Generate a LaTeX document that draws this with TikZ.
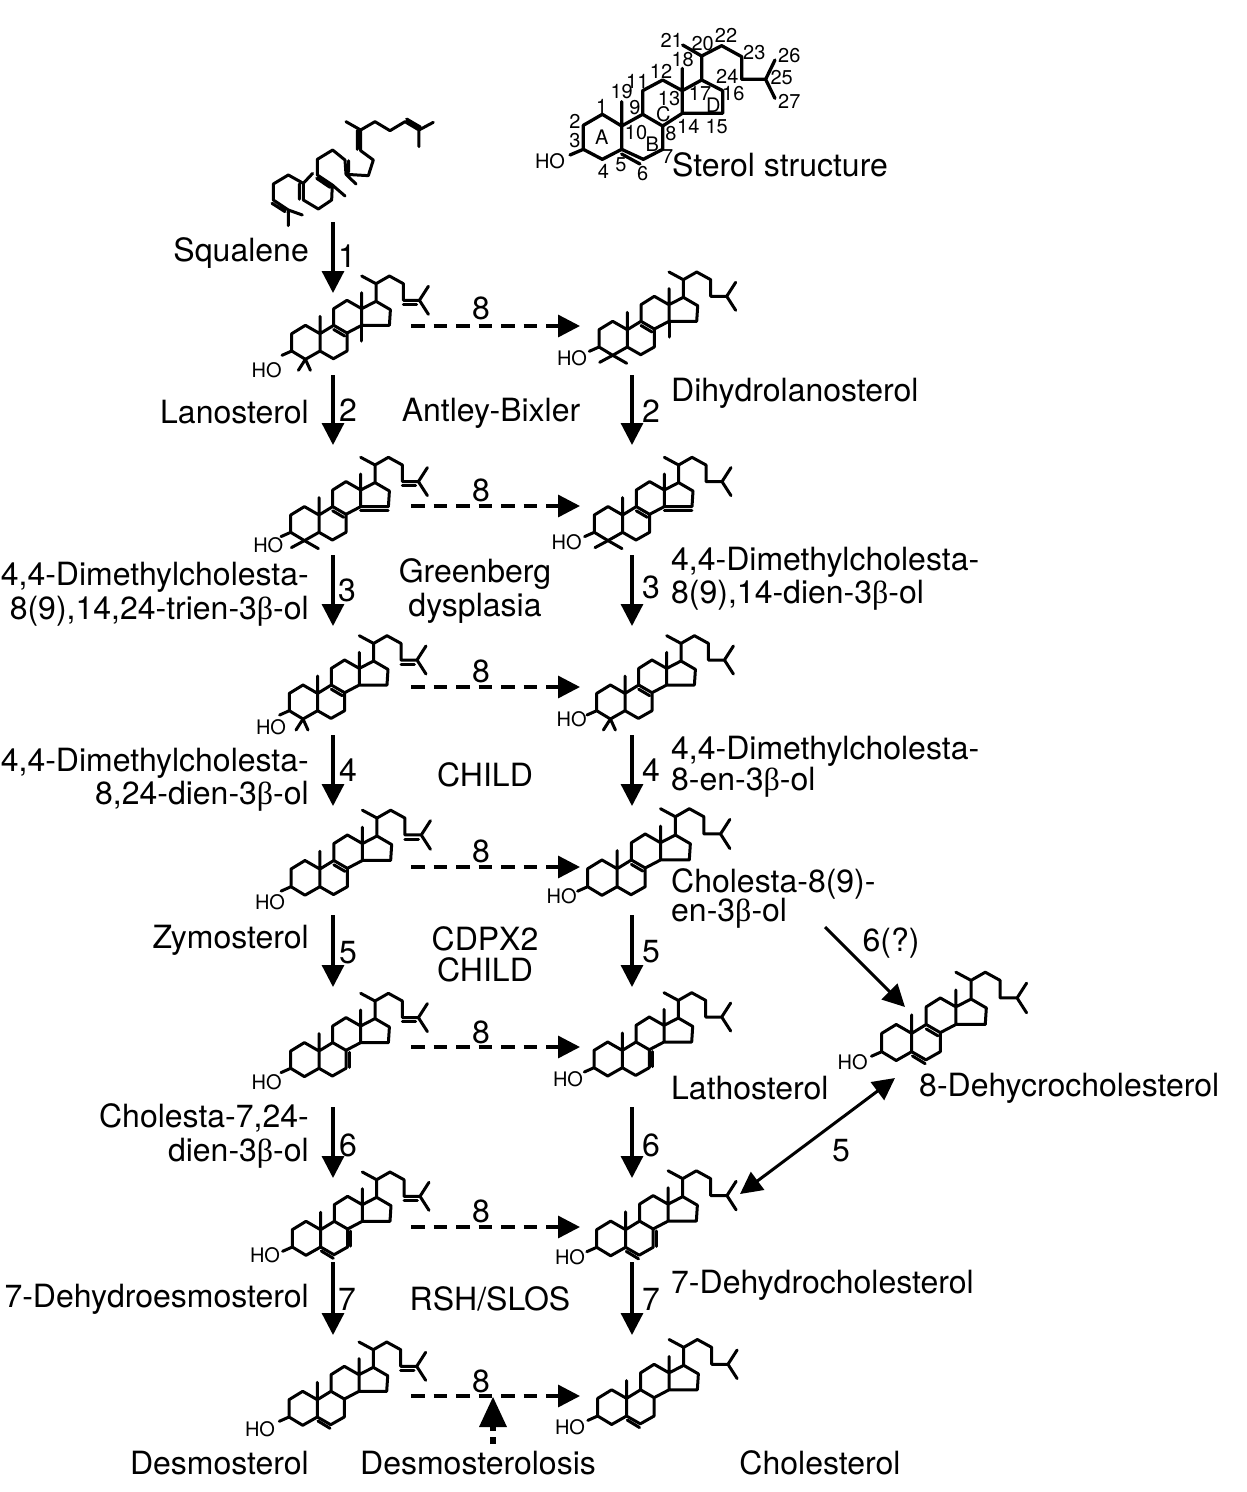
\documentclass[tikz,border=0pt]{standalone}
\usepackage{fontspec}
\setmainfont{TeX Gyre Heros}
\newfontfamily\grk{Liberation Serif}
\usetikzlibrary{arrows.meta}
\newcommand{\bet}{{\grk β}}
\tikzset{
  bond/.style={line width=3pt,line join=round,line cap=round,black},
  bigbond/.style={line width=3.3pt,line join=round,line cap=round,black},
  lab/.style={inner sep=0pt,font=\fontsize{32}{36}\selectfont},
  small/.style={inner sep=0pt,font=\fontsize{20}{24}\selectfont},
  hotext/.style={inner sep=0pt,font=\fontsize{20}{22}\selectfont},
  solidarrow/.style={line width=3.2pt,-{Triangle[length=22pt,width=22pt]}},
  dasharrow/.style={line width=3.4pt,dash pattern=on 13.5pt off 9pt,-{Triangle[length=22pt,width=22pt]}},
  diagarrow/.style={line width=3pt,-{Triangle[length=22pt,width=22pt]}},
  bothways/.style={line width=3pt,{Triangle[length=22pt,width=22pt]}-{Triangle[length=22pt,width=22pt]}},
}
% [#1 scale] #2 HO node name, #3 #4 position of C3, #5 #6 position of HO, #7 extras
\newcommand{\mol}[7][1]{%
  \begin{scope}[shift={(#3,#4)},scale=#1]
    \draw[bond] (-9.7,4.3)--(0,0)--(0,-17.3)--(13.7,-25.7)--(28.3,-17.3)--(28.3,0)--(13.7,8.3)--(0,0)
      (28.3,-34.7)--(28.3,0)--(41.7,7.7)--(55.3,0)--(55.3,-18)--(42,-25.7)--(28.3,-17.3)
      (42,-25.7)--(42,-42.3)--(55.3,-50.7)--(70,-42.3)--(70,-25.7)--(55.3,-18)
      (70,-58.3)--(70,-42.3)--(84.3,-49.7)--(98.7,-41.3)--(97.7,-25.7)--(70,-25.7)
      (84.3,-49.7)--(84.3,-67.3)--(70,-75)
      (84.3,-67.3)--(97.7,-75)--(111.7,-67.3)--(111.7,-50.7)--(127.7,-50.7)--(136.7,-64.7)
      (127.7,-50.7)--(136.7,-36.7);
    #7
  \end{scope}
  \node[hotext] (#2) at (#5,#6) {HO};
}
\newcommand{\dmwide}{\draw[bond] (0.7,15.3)--(13.7,8.3)--(27.7,16.3);}
\newcommand{\dmnarrow}{\draw[bond] (6.7,19.3)--(13.7,8.3)--(18.7,19.3);}
\newcommand{\dbnine}{\draw[bond] (42,-21.5)--(53,-15);}
\newcommand{\dbfive}{\draw[bond] (29,4)--(41,11.3);}
\newcommand{\dbseven}{\draw[bond] (58.5,-16)--(58.5,-1);}
\newcommand{\dbside}{\draw[bond] (111.7,-46.5)--(125,-46.5);}
\newcommand{\dbfourteen}{\draw[bond] (70,-21.7)--(97.5,-21.7);}
\newcommand{\mefourteen}{\draw[bond] (70,-25.7)--(70,-10);}
\begin{document}
\begin{tikzpicture}[x=1pt,y=-1pt]
\useasboundingbox (0,0) rectangle (1247,1492);
\fill[white] (0,0) rectangle (1247,1492);

% squalene
\begin{scope}[shift={(240,110)},x=0.3333pt,y=-0.3333pt]
\draw[bond] (318,35)--(362,60)--(405,35)--(450,62)--(495,35)--(537,60)--(580,37)
  (537,60)--(537,110)
  (500,27)--(541,51)
  (362,60)--(362,122)--(400,150)--(385,197)--(318,193)--(315,150)--(278,120)--(232,148)--(232,195)--(277,225)--(275,270)--(235,297)--(190,270)--(190,220)--(145,195)--(100,222)--(100,270)--(145,300)--(187,315)
  (352,62)--(352,118)
  (326,152)--(326,186)
  (318,193)--(348,222)
  (230,205)--(270,232)
  (277,225)--(315,258)
  (190,220)--(218,190)
  (178,222)--(178,268)
  (96,280)--(135,305)
  (145,300)--(145,347);
\end{scope}
\node[lab,anchor=base east] (squalene) at (309,261) {Squalene};

% top sterol
\begin{scope}[shift={(520,20)},x=0.3333pt,y=-0.3333pt]
\draw[bigbond] (150,405)--(190,388)--(190,316)--(247,283)--(305,318)--(305,388)--(247,418)--(190,388)
  (305,245)--(305,318)--(368,283)--(428,318)--(428,388)--(370,418)--(305,388)
  (305,402)--(360,432)
  (368,283)--(368,212)--(428,180)--(487,212)--(487,280)--(428,318)
  (487,145)--(487,212)--(545,180)--(608,212)--(608,280)--(487,280)
  (545,180)--(545,108)--(488,75)
  (545,108)--(605,77)--(665,110)--(665,178)--(737,178)--(765,120)
  (737,178)--(765,235);
\end{scope}
\foreach \nm/\X/\Y/\t in {n1/245/258/1,n2/165/303/2,n3/165/362/3,n4/250/455/4,n5/303/435/5,n6/368/462/6,n7/443/410/7,n8/453/340/8,n9/345/263/9,n10/348/338/10,n11/352/183/11,n12/423/153/12,n13/447/235/13,n14/505/318/14,n15/590/320/15,n16/640/220/16,n17/540/220/17,n18/488/120/18,n19/305/215/19,n20/548/70/20,n21/455/60/21,n22/618/47/22,n23/703/98/23,n24/622/170/24,n25/785/172/25,n26/808/108/26,n27/808/243/27,ra/245/352/A,rb/397/372/B,rc/430/283/C,rd/580/255/D,nho/90/425/HO}{
  \node[small] (\nm) at ({520+\X/3},{20+\Y/3}) {\t};
}
\node[lab,anchor=base west] (sterol) at (672,176) {Sterol structure};

% molecules
\mol{hoa}{291.7}{351}{266.7}{370}{\dmnarrow\dbnine\dbside\mefourteen}
\mol{hob}{599}{347}{572}{358}{\dmwide\dbnine\mefourteen}
\mol{hoc}{290.7}{532.3}{268.3}{545.7}{\dmwide\dbnine\dbside\dbfourteen}
\mol{hod}{594.3}{532.3}{566.7}{542.3}{\dmwide\dbnine\dbfourteen}
\mol{hoe}{289.3}{710.7}{271}{727}{\dmnarrow\dbnine\dbside}
\mol{hof}{596.7}{710.7}{571.7}{718.7}{\dmnarrow\dbnine}
\mol[1.02]{hog}{291}{886.7}{270}{901.7}{\dbnine\dbside}
\mol[1.04]{hoh}{587.7}{886.7}{561.7}{895.7}{\dbnine}
\mol{hoi}{290.7}{1068.3}{266.7}{1081.7}{\dbseven\dbside}
\mol{hoj}{594}{1067.7}{568}{1079}{\dbseven}
\mol{hok}{292.3}{1247}{265}{1255}{\dbfive\dbseven\dbside}
\mol[1.02]{hol}{596.7}{1247.3}{570}{1257}{\dbfive\dbseven}
\mol{hom}{289}{1417}{260}{1429}{\dbfive\dbside}
\mol[1.02]{hon}{597.7}{1416}{570}{1427}{\dbfive}
\mol[1.06]{hoo}{881.7}{1051.7}{852.7}{1061.7}{\dbfive\dbnine}

% vertical arrows with numbers
\foreach \nm/\x/\a/\b/\t/\tx/\ty in {
  va/333/222/293/1/347/256,
  vb/333/375/445/2/348/410,
  vc/333/555/626/3/347/590,
  vd/333/735/806/4/348/770,
  ve/333/915/987/5/348/953,
  vf/333/1107/1178/6/348/1145,
  vg/333/1262/1335/7/347/1299,
  vh/632/375/445/2/651/411,
  vi/632/555/626/3/651/587,
  vj/632/735/806/4/651/770,
  vk/632/915/987/5/651/952,
  vl/632/1107/1178/6/651/1145,
  vm/632/1262/1335/7/651/1299}{
  \coordinate (\nm s) at (\x,\a);
  \coordinate (\nm e) at (\x,\b);
  \draw[solidarrow] (\nm s) -- (\nm e);
  \node[lab] (\nm t) at (\tx,\ty) {\t};
}

% dashed arrows with number 8
\foreach \nm/\y/\ty in {da/326/308,db/506/490,dc/687/671,dd/867/851,de/1047/1032,df/1227/1211,dg/1396/1381}{
  \coordinate (\nm s) at (411,\y);
  \coordinate (\nm e) at (580,\y);
  \draw[dasharrow] (\nm s) -- (\nm e);
  \node[lab] (\nm t) at (481,\ty) {8};
}

% diagonal arrows
\coordinate (d6s) at (825,927);
\coordinate (d6e) at (905,1007);
\draw[diagarrow] (d6s) -- (d6e);
\node[lab] (d6t) at (891,943) {6(?)};
\coordinate (d5s) at (895,1078);
\coordinate (d5e) at (740,1194);
\draw[bothways] (d5s) -- (d5e);
\node[lab] (d5t) at (841,1151) {5};

% desmosterolosis arrow
\coordinate (dms) at (493,1444);
\coordinate (dmb) at (493,1427);
\coordinate (dme) at (493,1397);
\fill[black] (dme) -- (479,1427) -- (507,1427) -- cycle;
\draw[line width=6pt] (dms) -- (493,1437);
\draw[line width=6pt] (493,1431) -- (dmb);

% left labels
\node[lab,anchor=base east] (t1) at (309,423) {Lanosterol};
\node[lab,anchor=base east] (t2) at (309,585) {4,4-Dimethylcholesta-};
\node[lab,anchor=base east] (t3) at (309,619) {8(9),14,24-trien-3\bet-ol};
\node[lab,anchor=base east] (t4) at (309,771) {4,4-Dimethylcholesta-};
\node[lab,anchor=base east] (t5) at (309,804) {8,24-dien-3\bet-ol};
\node[lab,anchor=base east] (t6) at (309,948) {Zymosterol};
\node[lab,anchor=base east] (t7) at (309,1127) {Cholesta-7,24-};
\node[lab,anchor=base east] (t8) at (309,1161) {dien-3\bet-ol};
\node[lab,anchor=base east] (t9) at (309,1307) {7-Dehydroesmosterol};
\node[lab,anchor=base east] (t10) at (309,1474) {Desmosterol};
% middle labels
\node[lab,anchor=base] (m1) at (491,421) {Antley-Bixler};
\node[lab,anchor=base] (m2) at (475,582) {Greenberg};
\node[lab,anchor=base] (m3) at (475,616) {dysplasia};
\node[lab,anchor=base] (m4) at (485,786) {CHILD};
\node[lab,anchor=base] (m5) at (485,950) {CDPX2};
\node[lab,anchor=base] (m6) at (485,981) {CHILD};
\node[lab,anchor=base] (m7) at (490,1310) {RSH/SLOS};
\node[lab,anchor=base] (m8) at (478,1474) {Desmosterolosis};
% right labels
\node[lab,anchor=base west] (r1) at (671,401) {Dihydrolanosterol};
\node[lab,anchor=base west] (r2) at (671,570) {4,4-Dimethylcholesta-};
\node[lab,anchor=base west] (r3) at (671,603) {8(9),14-dien-3\bet-ol};
\node[lab,anchor=base west] (r4) at (671,759) {4,4-Dimethylcholesta-};
\node[lab,anchor=base west] (r5) at (671,790) {8-en-3\bet-ol};
\node[lab,anchor=base west] (r6) at (671,892) {Cholesta-8(9)-};
\node[lab,anchor=base west] (r7) at (671,921) {en-3\bet-ol};
\node[lab,anchor=base west] (r8) at (671,1099) {Lathosterol};
\node[lab,anchor=base west] (r9) at (919,1096) {8-Dehycrocholesterol};
\node[lab,anchor=base west] (r10) at (671,1293) {7-Dehydrocholesterol};
\node[lab,anchor=base] (r11) at (820,1474) {Cholesterol};
\end{tikzpicture}
\end{document}
